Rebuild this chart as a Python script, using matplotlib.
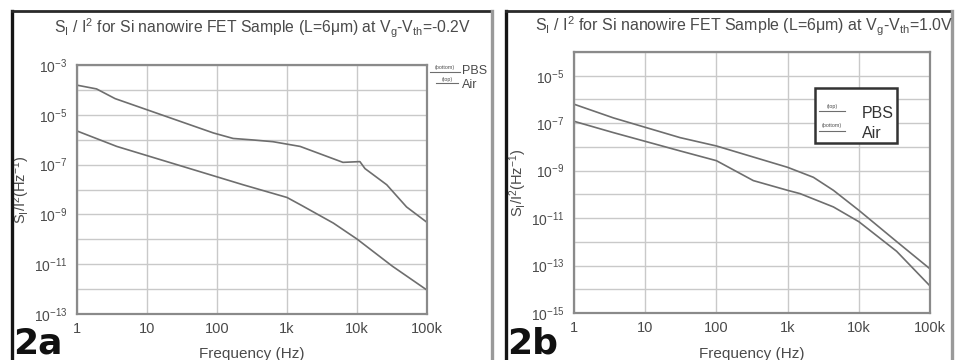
import matplotlib
matplotlib.use("Agg")
import matplotlib.pyplot as plt
from matplotlib.lines import Line2D
from matplotlib.patches import Rectangle
import numpy as np

plt.rcParams['font.family'] = ['Liberation Sans', 'DejaVu Sans']
plt.rcParams['mathtext.fontset'] = 'custom'
plt.rcParams['mathtext.rm'] = 'Liberation Sans'
plt.rcParams['mathtext.it'] = 'Liberation Sans'

# ---------------- data ----------------
freq_a_air = [1, 1.9, 3.5, 89, 170, 326, 630, 1540, 6300, 11000, 13000, 26600, 51000, 100000]
logS_a_air = [-3.81, -3.96, -4.35, -5.73, -5.95, -6.01, -6.08, -6.27, -6.91, -6.88, -7.16, -7.81, -8.70, -9.32]

freq_a_pbs = [1, 3.7, 236, 1000, 1620, 4600, 10000, 32000, 100000]
logS_a_pbs = [-5.65, -6.27, -7.81, -8.32, -8.64, -9.35, -9.99, -11.08, -12.04]

freq_b_pbs = [1, 3.6, 31, 100, 1000, 2300, 4400, 10000, 34000, 100000]
logS_b_pbs = [-6.20, -6.78, -7.61, -7.96, -8.86, -9.28, -9.83, -10.67, -11.99, -13.14]

freq_b_air = [1, 3.6, 31, 100, 330, 1000, 1500, 4400, 10000, 34000, 100000]
logS_b_air = [-6.92, -7.40, -8.17, -8.58, -9.42, -9.83, -9.97, -10.53, -11.15, -12.40, -13.86]

x_ticks = [1, 10, 100, 1000, 10000, 100000]
x_ticklabels = ['1', '10', '100', '1k', '10k', '100k']
ylim_exp_a = (-13, -3)
ylim_exp_b = (-15, -4)
label_exp_a = [-3, -5, -7, -9, -11, -13]
label_exp_b = [-5, -7, -9, -11, -13, -15]

titles = [r"S$_\mathrm{I}$ / I$^2$ for Si nanowire FET Sample (L=6μm) at V$_\mathrm{g}$-V$_\mathrm{th}$=-0.2V",
          r"S$_\mathrm{I}$ / I$^2$ for Si nanowire FET Sample (L=6μm) at V$_\mathrm{g}$-V$_\mathrm{th}$=1.0V"]
panel_labels = ['2a', '2b']

W, H = 960, 360
fig = plt.figure(figsize=(9.6, 3.6), dpi=100)
fig.patch.set_facecolor('white')

def fx(px):
    return px / W

def fy(py):
    return 1 - py / H

txt_col = '#4a4a4a'
grid_col = '#c9c9c9'
spine_col = '#8a8a8a'
curve_col = '#6e6e6e'

def make_axes(rect_px, ylim_exp, label_exp, series):
    x0, y0, x1, y1 = rect_px
    ax = fig.add_axes([fx(x0), fy(y1), fx(x1 - x0), (y1 - y0) / H])
    ax.set_xscale('log')
    ax.set_yscale('log')
    ax.set_xlim(1, 1e5)
    ax.set_ylim(10.0 ** ylim_exp[0], 10.0 ** ylim_exp[1])
    yt = [10.0 ** e for e in range(ylim_exp[0], ylim_exp[1] + 1)]
    ax.set_yticks(yt)
    ax.set_yticklabels([(r"10$^{%d}$" % e) if e in label_exp else '' for e in range(ylim_exp[0], ylim_exp[1] + 1)])
    ax.yaxis.set_minor_locator(matplotlib.ticker.NullLocator())
    ax.set_xticks(x_ticks)
    ax.set_xticklabels(x_ticklabels)
    ax.xaxis.set_minor_locator(matplotlib.ticker.NullLocator())
    ax.tick_params(axis='both', length=0, colors=txt_col)
    ax.tick_params(axis='x', pad=6, labelsize=10.5)
    ax.tick_params(axis='y', pad=7, labelsize=10)
    ax.grid(True, color=grid_col, lw=1.0)
    ax.set_axisbelow(True)
    for s in ax.spines.values():
        s.set_color(spine_col)
        s.set_linewidth(1.6)
    for f, l in series:
        ax.plot(f, 10.0 ** np.array(l), color=curve_col, lw=1.2)
    ax.set_ylabel(r"S$_\mathrm{I}$/I$^2$(Hz$^{-1}$)", color=txt_col, fontsize=10.5, labelpad=1)
    fig.text(fx((x0 + x1) / 2), fy(354), 'Frequency (Hz)', ha='center', va='center',
             color=txt_col, fontsize=11)
    return ax

ax1 = make_axes((77, 65, 427, 314), ylim_exp_a, label_exp_a,
                [(freq_a_air, logS_a_air), (freq_a_pbs, logS_a_pbs)])
ax2 = make_axes((574, 52, 930, 313), ylim_exp_b, label_exp_b,
                [(freq_b_pbs, logS_b_pbs), (freq_b_air, logS_b_air)])

# titles
fig.text(fx(262), fy(28), titles[0], ha='center', va='center', color=txt_col, fontsize=11.3)
fig.text(fx(744), fy(26), titles[1], ha='center', va='center', color=txt_col, fontsize=11.5)

# panel labels
for xpx, lab in zip([13, 507], panel_labels):
    fig.text(fx(xpx), fy(360), lab, ha='left', va='bottom', color='#111111',
             fontsize=26, fontweight='bold', family='DejaVu Sans')

# panel frames
def frame(xl, xr, yt):
    fig.add_artist(Line2D([fx(xl), fx(xl)], [fy(yt), 0], color='#151515', lw=2.4))
    fig.add_artist(Line2D([fx(xl), fx(xr)], [fy(yt), fy(yt)], color='#2a2a2a', lw=2.0))
    fig.add_artist(Line2D([fx(xr), fx(xr)], [fy(yt), 0], color='#9a9a9a', lw=2.4))

frame(12, 492, 11)
frame(506, 952, 11)

# legend, panel a (outside at right)
fig.text(fx(445), fy(68), '(bottom)', ha='center', va='center', color=txt_col, fontsize=3.8)
fig.add_artist(Line2D([fx(430), fx(460)], [fy(72), fy(72)], color=curve_col, lw=0.8))
fig.text(fx(462), fy(71), 'PBS', ha='left', va='center', color=txt_col, fontsize=9)
fig.text(fx(447), fy(79), '(top)', ha='center', va='center', color=txt_col, fontsize=3.8)
fig.add_artist(Line2D([fx(436), fx(458)], [fy(83), fy(83)], color=curve_col, lw=0.8))
fig.text(fx(462), fy(85), 'Air', ha='left', va='center', color=txt_col, fontsize=9)

# legend, panel b (boxed)
fig.add_artist(Rectangle((fx(815), fy(143)), fx(897 - 815), (143 - 88) / H,
                         facecolor='white', edgecolor='#333333', lw=1.8))
fig.text(fx(832), fy(106), '(top)', ha='center', va='center', color=txt_col, fontsize=3.8)
fig.add_artist(Line2D([fx(819), fx(845)], [fy(111), fy(111)], color=curve_col, lw=0.8))
fig.text(fx(862), fy(114), 'PBS', ha='left', va='center', color='#333333', fontsize=11.5)
fig.text(fx(832), fy(126), '(bottom)', ha='center', va='center', color=txt_col, fontsize=3.8)
fig.add_artist(Line2D([fx(819), fx(845)], [fy(131), fy(131)], color=curve_col, lw=0.8))
fig.text(fx(862), fy(133), 'Air', ha='left', va='center', color='#333333', fontsize=11.5)

fig.savefig('out.png', dpi=100, facecolor='white')
